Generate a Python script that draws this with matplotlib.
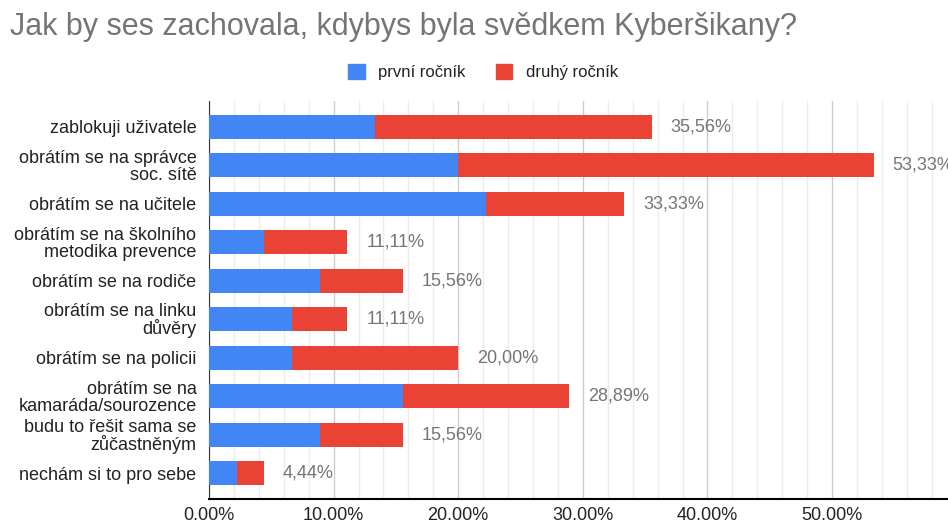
import matplotlib.pyplot as plt
from matplotlib.patches import Patch
from matplotlib.ticker import MultipleLocator, FuncFormatter

# answers (top to bottom)
kategorie = ["zablokuji uživatele",
             "obrátím se na správce\nsoc. sítě",
             "obrátím se na učitele",
             "obrátím se na školního\nmetodika prevence",
             "obrátím se na rodiče",
             "obrátím se na linku\ndůvěry",
             "obrátím se na policii",
             "obrátím se na\nkamaráda/sourozence",
             "budu to řešit sama se\nzůčastněným",
             "nechám si to pro sebe"]

# percent of respondents
prvni = [13.33, 20.00, 22.22, 4.44, 8.89, 6.67, 6.67, 15.56, 8.89, 2.22]
druhy = [22.22, 33.33, 11.11, 6.67, 6.67, 4.44, 13.33, 13.33, 6.67, 2.22]
soucty = ["35,56%", "53,33%", "33,33%", "11,11%", "15,56%",
          "11,11%", "20,00%", "28,89%", "15,56%", "4,44%"]

plt.rcParams['font.family'] = ['Liberation Sans', 'DejaVu Sans']

fig = plt.figure(figsize=(9.48, 5.24), dpi=100)
ax = fig.add_axes([209/948, 25/524, 739/948, 398/524])

y = list(range(len(kategorie)))
ax.barh(y, prvni, height=0.62, color="#4285F4", label="první ročník", zorder=3)
ax.barh(y, druhy, left=prvni, height=0.62, color="#EA4335", label="druhý ročník", zorder=3)

#total labels to the right of each bar
for i in y:
    ax.text(prvni[i] + druhy[i] + 1.5, i, soucty[i], va="center", ha="left",
            fontsize=13, color="#757575", zorder=4)

ax.set_ylim(len(kategorie) - 0.33, -0.67)
ax.set_xlim(0, 59.3)
ax.set_yticks(y)
ax.set_yticklabels(kategorie, fontsize=13, color="#222222", linespacing=0.95)
ax.xaxis.set_major_locator(MultipleLocator(10))
ax.xaxis.set_minor_locator(MultipleLocator(2))
ax.xaxis.set_major_formatter(FuncFormatter(lambda v, p: "%.2f%%" % v))
ax.tick_params(axis="x", labelsize=13, colors="#222222", length=0, pad=6, which="both")
ax.tick_params(axis="y", length=0, pad=9)
ax.grid(axis="x", which="major", color="#cccccc", linewidth=1, zorder=0)
ax.grid(axis="x", which="minor", color="#ebebeb", linewidth=1, zorder=0)
for s in ["top", "right"]:
    ax.spines[s].set_visible(False)
ax.spines["left"].set_color("#333333")
ax.spines["bottom"].set_color("#000000")
ax.spines["bottom"].set_linewidth(1.5)

fig.text(10/948, 1 - 35/524, "Jak by ses zachovala, kdybys byla svědkem Kyberšikany?",
         fontsize=22, color="#757575", ha="left", va="baseline")

handles = [Patch(color="#4285F4", label="první ročník"),
           Patch(color="#EA4335", label="druhý ročník")]
fig.legend(handles=handles, loc="center", bbox_to_anchor=(483/948, 1 - 72/524), ncol=2,
           frameon=False, fontsize=12, handlelength=1.0, handleheight=1.0,
           handletextpad=0.8, columnspacing=1.8, labelcolor="#222222")

plt.savefig("out.png", dpi=100)
